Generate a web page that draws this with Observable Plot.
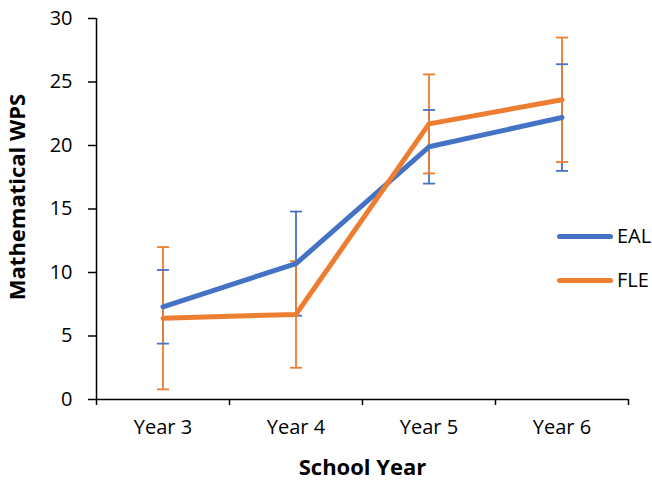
<!DOCTYPE html>
<html>
<head>
<meta charset="utf-8">
<script src="https://cdn.jsdelivr.net/npm/d3@7"></script>
<script src="https://cdn.jsdelivr.net/npm/@observablehq/plot@0.6"></script>
<style>
  body { margin: 0; background: #fff; }
  #chart { position: relative; width: 652px; height: 482px; font-family: "Open Sans", sans-serif; }
  #chart svg { display: block; }
  .legend { position: absolute; left: 557px; font-size: 20px; color: #000; display: flex; align-items: center; line-height: 1; }
  .legend .swatch { display: inline-block; width: 56px; height: 5px; border-radius: 3px; margin-right: 4px; }
</style>
</head>
<body>
<div id="chart"></div>
<script>
// School years on the horizontal axis
const years = ["Year 3", "Year 4", "Year 5", "Year 6"];
// Mean mathematical WPS and error-bar half widths per group
const ealMean = [7.3, 10.7, 19.9, 22.2];
const ealErr  = [2.9, 4.1, 2.9, 4.2];
const fleMean = [6.4, 6.7, 21.7, 23.6];
const fleErr  = [5.6, 4.2, 3.9, 4.9];
const seriesNames = ["EAL", "FLE"];
const seriesColors = ["#4472C4", "#ED7D31"];
const yTicks = [0, 5, 10, 15, 20, 25, 30];

const rows = [];
[[ealMean, ealErr], [fleMean, fleErr]].forEach(([means, errs], s) => {
  years.forEach((year, k) => {
    rows.push({series: seriesNames[s], i: k + 1, year, mean: means[k], err: errs[k]});
  });
});

// horizontal cap drawn as a custom symbol so it keeps a fixed pixel width
const cap = {draw(ctx, size) { const r = Math.sqrt(size / Math.PI); ctx.moveTo(-r, 0); ctx.lineTo(r, 0); }};
const bounds = d3.range(years.length + 1).map(k => k + 0.5);

const plot = Plot.plot({
  width: 652,
  height: 482,
  marginLeft: 96,
  marginRight: 24,
  marginTop: 18,
  marginBottom: 83,
  style: {fontFamily: "'Open Sans', sans-serif", fontSize: "20px", color: "#000", background: "#fff"},
  x: {type: "linear", domain: [0.5, years.length + 0.5]},
  y: {domain: [0, 30]},
  color: {domain: seriesNames, range: seriesColors},
  marks: [
    Plot.axisY({ticks: yTicks, tickSize: 8, tickPadding: 16, label: null, stroke: "#000", strokeWidth: 1.5, strokeOpacity: 1}),
    Plot.axisX({ticks: bounds, tickSize: 6, tickFormat: () => "", label: null, stroke: "#000", strokeWidth: 1.5, strokeOpacity: 1}),
    Plot.axisX({ticks: years.map((_, k) => k + 1), tickSize: 0, tickPadding: 20, tickFormat: i => years[i - 1], label: null}),
    // error bars
    Plot.ruleX(rows, {x: "i", y1: d => d.mean - d.err, y2: d => d.mean + d.err, stroke: "series", strokeWidth: 1.8}),
    Plot.dot(rows, {x: "i", y: d => d.mean + d.err, symbol: cap, r: 6, stroke: "series", strokeWidth: 1.8}),
    Plot.dot(rows, {x: "i", y: d => d.mean - d.err, symbol: cap, r: 6, stroke: "series", strokeWidth: 1.8}),
    // series lines
    Plot.line(rows, {x: "i", y: "mean", z: "series", stroke: "series", strokeWidth: 5, strokeLinecap: "round", strokeLinejoin: "round"}),
    // axis lines
    Plot.ruleX([0.5], {stroke: "#000", strokeWidth: 1.5}),
    Plot.ruleY([0], {stroke: "#000", strokeWidth: 1.5}),
    // axis titles
    Plot.text(["Mathematical WPS"], {frameAnchor: "left", textAnchor: "middle", lineAnchor: "middle", rotate: -90, dx: -79, dy: -12, fontWeight: "bold", fontSize: 22, fill: "#000"}),
    Plot.text(["School Year"], {frameAnchor: "bottom", lineAnchor: "middle", dy: 68, fontWeight: "bold", fontSize: 22, fill: "#000"})
  ]
});

const chart = document.getElementById("chart");
chart.appendChild(plot);

// legend
const legendTops = [236, 280];
seriesNames.forEach((name, s) => {
  const item = document.createElement("div");
  item.className = "legend";
  item.style.top = (legendTops[s] - 11) + "px";
  item.style.height = "22px";
  const sw = document.createElement("span");
  sw.className = "swatch";
  sw.style.background = seriesColors[s];
  const label = document.createElement("span");
  label.textContent = name;
  item.appendChild(sw);
  item.appendChild(label);
  chart.appendChild(item);
});
</script>
</body>
</html>
